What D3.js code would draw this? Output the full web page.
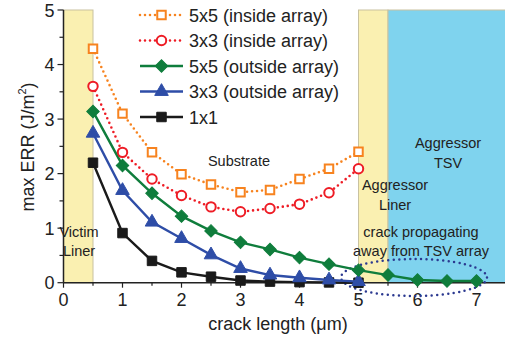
<!DOCTYPE html>
<html>
<head>
<meta charset="utf-8">
<script src="https://cdn.jsdelivr.net/npm/d3@7"></script>
<style>
  body { margin: 0; background: #fff; }
  text { font-family: Arial, "Liberation Sans", sans-serif; fill: #222; }
</style>
</head>
<body>
<svg id="chart" width="505" height="341"></svg>
<script>
// crack lengths (um)
const xInside = [0.5, 1, 1.5, 2, 2.5, 3, 3.5, 4, 4.5, 5];
const xOut5 = [0.5, 1, 1.5, 2, 2.5, 3, 3.5, 4, 4.5, 5, 5.5, 6, 6.5, 7];
const xOut3 = [0.5, 1, 1.5, 2, 2.5, 3, 3.5, 4, 4.5, 5];
const x1x1 = [0.5, 1, 1.5, 2, 2.5, 3, 3.5, 4, 4.5, 5];

// max ERR (J/m^2)
const in5x5 = [4.29, 3.10, 2.39, 1.99, 1.80, 1.66, 1.70, 1.90, 2.09, 2.40];
const in3x3 = [3.60, 2.39, 1.90, 1.60, 1.39, 1.30, 1.36, 1.44, 1.65, 2.09];
const out5x5 = [3.14, 2.15, 1.64, 1.22, 0.95, 0.74, 0.61, 0.46, 0.34, 0.23, 0.14, 0.05, 0.03, 0.03];
const out3x3 = [2.74, 1.69, 1.11, 0.81, 0.51, 0.26, 0.14, 0.09, 0.05, 0.02];
const one1x1 = [2.20, 0.91, 0.40, 0.19, 0.11, 0.04, 0.02, 0.01, 0.005, 0.0];

const xTicks = [0, 1, 2, 3, 4, 5, 6, 7];
const yTicks = [0, 1, 2, 3, 4, 5];

const svg = d3.select('#chart');
const x = d3.scaleLinear().domain([0, 7.5]).range([63.5, 506]);
const y = d3.scaleLinear().domain([0, 5]).range([282.7, 10]);

// regions
const regions = [
    {x0: 0, x1: 0.5, fill: '#faf0b1'},
    {x0: 5, x1: 5.5, fill: '#faf0b1'},
    {x0: 5.5, x1: 7.6, fill: '#7fd3ee'},
];
regions.forEach(r => {
    svg.append('rect')
        .attr('x', x(r.x0)).attr('y', y(5))
        .attr('width', x(r.x1) - x(r.x0)).attr('height', y(0) - y(5))
        .attr('fill', r.fill)
        .attr('stroke', '#c9c2a0').attr('stroke-width', 1);
});

// annotations
const notes = [
    {t: 'Substrate', x: 239, y: 166},
    {t: 'Victim', x: 79, y: 237},
    {t: 'Liner', x: 79, y: 256},
    {t: 'Aggressor', x: 395, y: 190},
    {t: 'Liner', x: 395, y: 210},
    {t: 'Aggressor', x: 448, y: 148},
    {t: 'TSV', x: 448, y: 168},
    {t: 'crack propagating', x: 421, y: 237},
    {t: 'away from TSV array', x: 421, y: 256},
];
notes.forEach(n => {
    svg.append('text').attr('x', n.x).attr('y', n.y)
        .attr('text-anchor', 'middle').attr('font-size', 14.5).text(n.t);
});

// axes
const xAxis = svg.append('g').attr('transform', `translate(0,${y(0)})`);
xAxis.append('line').attr('x1', x(0)).attr('x2', 505).attr('stroke', '#222').attr('stroke-width', 1.5);
d3.range(0, 7.01, 0.5).forEach(v => {
    const major = Number.isInteger(v);
    xAxis.append('line').attr('x1', x(v)).attr('x2', x(v))
        .attr('y1', 0).attr('y2', major ? 5 : 3).attr('stroke', '#222').attr('stroke-width', 1.2);
});
xAxis.selectAll('.tl').data(xTicks).enter().append('text')
    .attr('x', d => x(d)).attr('y', 23).attr('text-anchor', 'middle')
    .attr('font-size', 18).text(d => d);

const yAxis = svg.append('g').attr('transform', `translate(${x(0)},0)`);
yAxis.append('line').attr('y1', y(0)).attr('y2', y(5)).attr('stroke', '#222').attr('stroke-width', 1.5);
d3.range(0, 5.01, 0.5).forEach(v => {
    const major = Number.isInteger(v);
    yAxis.append('line').attr('y1', y(v)).attr('y2', y(v))
        .attr('x1', 0).attr('x2', major ? -6 : -4).attr('stroke', '#222').attr('stroke-width', 1.2);
});
yAxis.selectAll('.tl').data(yTicks).enter().append('text')
    .attr('x', -9).attr('y', d => y(d) + 6.5).attr('text-anchor', 'end')
    .attr('font-size', 18).text(d => d);

svg.append('text').attr('x', 278).attr('y', 330).attr('text-anchor', 'middle')
    .attr('font-size', 18).text('crack length (\u03bcm)');
const yt = svg.append('text').attr('transform', 'translate(34,147) rotate(-90)')
    .attr('text-anchor', 'middle').attr('font-size', 18);
yt.append('tspan').text('max ERR (J/m');
yt.append('tspan').attr('font-size', 11).attr('dy', -8).text('2');
yt.append('tspan').attr('dy', 8).text(')');

// dotted ellipse
svg.append('ellipse').attr('cx', 414).attr('cy', 277.5).attr('rx', 73).attr('ry', 18.5)
    .attr('fill', 'none').attr('stroke', '#2b3990').attr('stroke-width', 2.5)
    .attr('stroke-dasharray', '0,5.5').attr('stroke-linecap', 'round');

// series
const series = [
    {name: '1x1', xs: x1x1, ys: one1x1, color: '#1a1a1a', dotted: false, marker: 'square', hollow: false},
    {name: '3x3 (outside array)', xs: xOut3, ys: out3x3, color: '#2e4da7', dotted: false, marker: 'triangle', hollow: false},
    {name: '5x5 (outside array)', xs: xOut5, ys: out5x5, color: '#0f7d3c', dotted: false, marker: 'diamond', hollow: false},
    {name: '3x3 (inside array)', xs: xInside, ys: in3x3, color: '#ee1c25', dotted: true, marker: 'circle', hollow: true},
    {name: '5x5 (inside array)', xs: xInside, ys: in5x5, color: '#f7831f', dotted: true, marker: 'square', hollow: true},
];

function symbolPath(s) {
    if (s.marker === 'square') return d3.symbol().type(d3.symbolSquare).size(s.hollow ? 72 : 90)();
    if (s.marker === 'diamond') return d3.symbol().type(d3.symbolSquare).size(78)();
    if (s.marker === 'triangle') return d3.symbol().type(d3.symbolTriangle).size(80)();
    return d3.symbol().type(d3.symbolCircle).size(70)();
}
function drawMarker(g, s, px, py) {
    g.append('path')
        .attr('d', symbolPath(s))
        .attr('transform', `translate(${px},${py})` + (s.marker === 'diamond' ? ' rotate(45)' : ''))
        .attr('fill', s.hollow ? '#fff' : s.color)
        .attr('stroke', s.color).attr('stroke-width', s.hollow ? 2 : 1);
}

const line = d3.line().x(d => x(d[0])).y(d => y(d[1]));
series.forEach(s => {
    const pts = s.xs.map((v, i) => [v, s.ys[i]]);
    const g = svg.append('g');
    g.append('path').attr('d', line(pts)).attr('fill', 'none')
        .attr('stroke', s.color).attr('stroke-width', s.dotted ? 2.6 : 2.4)
        .attr('stroke-dasharray', s.dotted ? '0,5' : null)
        .attr('stroke-linecap', s.dotted ? 'round' : 'butt');
    pts.forEach(p => drawMarker(g, s, x(p[0]), y(p[1])));
});

// legend
const legendOrder = series.slice().reverse();
const lg = svg.append('g');
legendOrder.forEach((s, i) => {
    const ly = 15 + i * 25.5;
    lg.append('line').attr('x1', 140).attr('x2', 183).attr('y1', ly).attr('y2', ly)
        .attr('stroke', s.color).attr('stroke-width', s.dotted ? 2.6 : 2.4)
        .attr('stroke-dasharray', s.dotted ? '0,5' : null)
        .attr('stroke-linecap', s.dotted ? 'round' : 'butt');
    drawMarker(lg, s, 161.5, ly);
    lg.append('text').attr('x', 189).attr('y', ly + 6.5).attr('font-size', 18).text(s.name);
});
</script>
</body>
</html>
